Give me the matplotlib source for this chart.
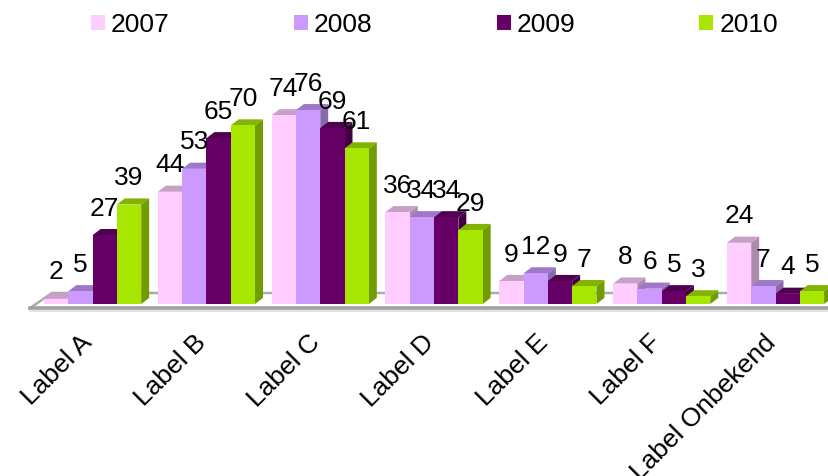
from matplotlib import pyplot as plt
from matplotlib.patches import Polygon
from matplotlib.colors import to_rgb

categories = ['Label A', 'Label B', 'Label C', 'Label D', 'Label E', 'Label F', 'Label Onbekend']
years = ['2007', '2008', '2009', '2010']
values_2007 = [2, 44, 74, 36, 9, 8, 24]
values_2008 = [5, 53, 76, 34, 12, 6, 7]
values_2009 = [27, 65, 69, 34, 9, 5, 4]
values_2010 = [39, 70, 61, 29, 7, 3, 5]
series = [values_2007, values_2008, values_2009, values_2010]
colors = ['#FFCCFF', '#CC99FF', '#660066', '#A6E600']

plt.rcParams['font.family'] = ['Liberation Sans', 'DejaVu Sans']

# the axes fill the figure, the scale is set so the groups land where they should
bar_w = 0.2135
dx = 0.07
dy = 2.4


def shade(c, f):
    return tuple(v * f for v in to_rgb(c))


fig = plt.figure(figsize=(8.29, 4.76), dpi=100)
ax = fig.add_axes([0, 0, 1, 1])
ax.set_xlim(-0.8137, 6.47)
ax.set_ylim(-67.45, 119.2)
ax.axis('off')

# floor of the 3d chart
x_end = 6.47
floor = [(-0.55, -1.6), (-0.357, 4.3), (x_end, 4.3), (x_end, -1.6)]
ax.add_patch(Polygon(floor, closed=True, facecolor='white', edgecolor='none', zorder=1))
ax.plot([floor[0][0], floor[1][0], floor[2][0]], [floor[0][1], floor[1][1], floor[2][1]],
        color='#ABABAB', lw=1.8, zorder=1.5, solid_joinstyle='miter')
ax.plot([floor[0][0], floor[3][0]], [floor[0][1], floor[3][1]], color='#A0A0A0', lw=2.6, zorder=1.5)
ax.plot([floor[0][0], floor[3][0]], [-2.9, -2.9], color='#DDDDDD', lw=1.2, zorder=1.4)

z = 2
for c in range(len(categories)):
    for s in range(len(years)):
        v = series[s][c]
        left = c + (s - 2) * bar_w
        right = left + bar_w
        col = colors[s]
        ax.add_patch(Polygon([(right, 0), (right + dx, dy), (right + dx, v + dy), (right, v)],
                             facecolor=shade(col, 0.68), edgecolor='none', zorder=z))
        ax.add_patch(Polygon([(left, v), (left + dx, v + dy), (right + dx, v + dy), (right, v)],
                             facecolor=shade(col, 0.78), edgecolor='none', zorder=z))
        ax.bar(left, v, width=bar_w, align='edge', color=col, edgecolor='none', zorder=z + 0.5)
        z += 1

for c in range(len(categories)):
    for s in range(len(years)):
        ax.annotate(str(series[s][c]), xy=(c + (s - 1.5) * bar_w, series[s][c]),
                    xytext=(0, 19), textcoords='offset points', ha='center', va='center',
                    fontsize=19, color='black', zorder=100)

for c, name in enumerate(categories):
    ax.annotate(name, xy=(c, 0), xytext=(-9, -19), textcoords='offset points', rotation=45,
                rotation_mode='anchor', ha='right', va='top', fontsize=19, color='black',
                annotation_clip=False)

handles = [plt.Rectangle((0, 0), 1, 1, facecolor=col, edgecolor='none') for col in colors]
ax.legend(handles, years, ncol=4, loc='center left', bbox_to_anchor=(91 / 829, 1 - 25 / 476),
          frameon=False, fontsize=19, borderpad=0, borderaxespad=0, handlelength=0.53,
          handleheight=0.53, handletextpad=0.23, columnspacing=4.7)

fig.savefig('out.png', dpi=100)
